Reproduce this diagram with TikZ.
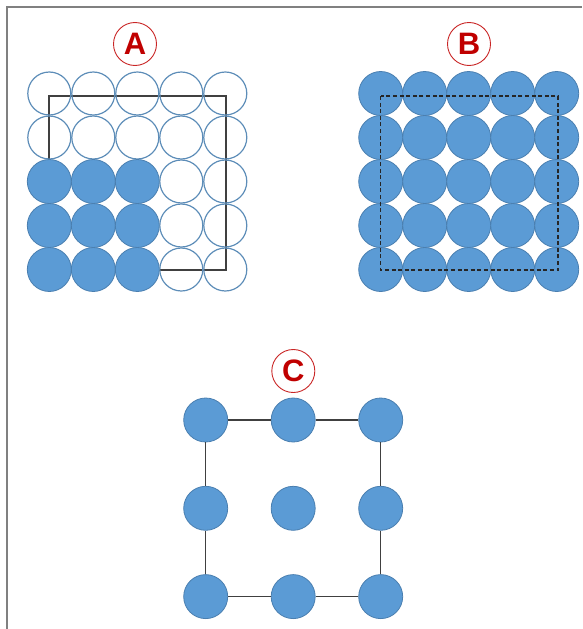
\documentclass[tikz,border=0pt]{standalone}
\usepackage{fontspec}
\setmainfont{Liberation Sans}
\usepackage{tikz}
\usetikzlibrary{positioning, calc}

\definecolor{ballfill}{HTML}{5B9BD5}
\definecolor{balledge}{HTML}{4A7FB0}
\definecolor{ringedge}{HTML}{5D8DB8}
\definecolor{tagred}{HTML}{C00000}

\begin{document}
\begin{tikzpicture}[
    x=1pt, y=-1pt,
    % --- STYLES ---
    ball/.style={
        circle, fill=ballfill, draw=balledge,
        line width=0.8pt, minimum size=44pt, inner sep=0pt
    },
    ring/.style={
        circle, draw=ringedge,
        line width=1.2pt, minimum size=43pt, inner sep=0pt
    },
    tag/.style={
        circle, draw=tagred!85, line width=0.9pt,
        minimum size=43pt, inner sep=0pt,
        text=tagred, font=\fontsize{31}{31}\selectfont\bfseries
    },
    box/.style={draw=black!75, line width=1.5pt},
    dashbox/.style={draw=black!85, line width=1.4pt, dash pattern=on 4pt off 2.6pt},
    link/.style={draw=black!75, line width=1.3pt},
    frame/.style={draw=black!50, line width=1.7pt}
]
\useasboundingbox (0,0) rectangle (582,629);

% ===== 0. FRAME =====
\draw[frame] (7,629) -- (7,7) -- (582,7);

% ===== 1. PANEL A =====
\node[tag] (tagA) at (135,44) {A};

% Khung vuông nằm dưới các hình tròn
\draw[box] (49,96) rectangle (226,270);

\foreach \r in {0,...,4}
  \foreach \c in {0,...,4} {
    \ifnum\r>1 \ifnum\c<3
      \node[ball] (a\r\c) at (49.3+44*\c, 93.5+44*\r) {};
    \else
      \node[ring] (a\r\c) at (49.3+44*\c, 93.5+44*\r) {};
    \fi \else
      \node[ring] (a\r\c) at (49.3+44*\c, 93.5+44*\r) {};
    \fi
  }

% ===== 2. PANEL B =====
\node[tag] (tagB) at (469,44) {B};

\foreach \r in {0,...,4}
  \foreach \c in {0,...,4}
    \node[ball] (b\r\c) at (380.7+44*\c, 93.5+44*\r) {};

% Khung nét đứt nằm trên các hình tròn
\draw[dashbox] (380.7,96) rectangle (558,270);

% ===== 3. PANEL C =====
\node[tag] (tagC) at (293.3,371) {C};

\foreach \r in {0,1,2}
  \foreach \c in {0,1,2}
    \node[ball] (c\r\c) at (205.7+87.5*\c, 420+88.3*\r) {};

% ===== 4. CONNECTIONS =====
\draw[link] (c00) -- (c01) -- (c02) -- (c12) -- (c22)
            -- (c21) -- (c20) -- (c10) -- (c00);

\end{tikzpicture}
\end{document}
